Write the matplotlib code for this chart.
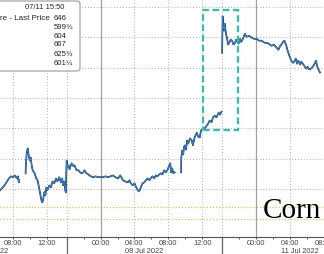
import numpy as np
import pandas as pd
import matplotlib
matplotlib.use("Agg")
import matplotlib.pyplot as plt
from matplotlib.patches import Rectangle, FancyBboxPatch
from matplotlib.transforms import blended_transform_factory

# trading sessions (ET); the chart squeezes out the non-trading time
sessions = [("2022-07-06 20:00", "2022-07-07 14:20"),
            ("2022-07-07 20:00", "2022-07-08 14:20"),
            ("2022-07-10 20:00", "2022-07-11 14:20")]
day_labels = ["07 Jul 2022", "08 Jul 2022", "11 Jul 2022"]

# corn price, cents (None = no trading / gap in the line)
times = [
    "07-07 06:30", "07-07 06:50", "07-07 07:11", "07-07 07:32", "07-07 07:46", "07-07 08:00",
    "07-07 08:14", "07-07 08:28", "07-07 08:35", "07-07 08:42", "07-07 08:45", "07-07 09:00",
    "07-07 09:30", "07-07 09:31", "07-07 09:38", "07-07 09:45", "07-07 09:52", "07-07 09:59",
    "07-07 10:06", "07-07 10:13", "07-07 10:20", "07-07 10:34", "07-07 10:45", "07-07 10:55",
    "07-07 11:02", "07-07 11:08", "07-07 11:15", "07-07 11:22", "07-07 11:29", "07-07 11:36",
    "07-07 11:43", "07-07 11:50", "07-07 11:57", "07-07 12:04", "07-07 12:18", "07-07 12:30",
    "07-07 12:40", "07-07 12:53", "07-07 13:05", "07-07 13:15", "07-07 13:28", "07-07 13:40",
    "07-07 13:49", "07-07 13:55", "07-07 14:03", "07-07 14:10", "07-07 14:15",
    "07-07 20:00", "07-07 20:07", "07-07 20:14", "07-07 20:21", "07-07 20:35", "07-07 20:49",
    "07-07 20:56", "07-07 21:10", "07-07 21:24", "07-07 21:35", "07-07 21:45", "07-07 21:59",
    "07-07 22:06", "07-07 22:20", "07-07 22:34", "07-07 22:50", "07-07 23:08", "07-07 23:25",
    "07-07 23:43", "07-08 00:00", "07-08 00:18", "07-08 00:35", "07-08 00:53", "07-08 01:10",
    "07-08 01:28", "07-08 01:45", "07-08 02:03", "07-08 02:20", "07-08 02:38", "07-08 02:55",
    "07-08 03:13", "07-08 03:25", "07-08 03:34", "07-08 03:48", "07-08 04:00", "07-08 04:09",
    "07-08 04:20", "07-08 04:30", "07-08 04:37", "07-08 04:50", "07-08 04:57", "07-08 05:10",
    "07-08 05:20", "07-08 05:32", "07-08 05:45", "07-08 06:00", "07-08 06:07", "07-08 06:20",
    "07-08 06:30", "07-08 06:42", "07-08 06:55", "07-08 07:05", "07-08 07:17", "07-08 07:30",
    "07-08 07:40", "07-08 07:52", "07-08 08:00", "07-08 08:13", "07-08 08:20", "07-08 08:27",
    "07-08 08:35", "07-08 08:44", "07-08 09:00",
    "07-08 09:30", "07-08 09:31", "07-08 09:37", "07-08 09:45", "07-08 09:50", "07-08 09:58",
    "07-08 10:05", "07-08 10:12", "07-08 10:20", "07-08 10:33", "07-08 10:45", "07-08 10:53",
    "07-08 11:05", "07-08 11:21", "07-08 11:30", "07-08 11:42", "07-08 11:50", "07-08 11:56",
    "07-08 12:05", "07-08 12:17", "07-08 12:31", "07-08 12:40", "07-08 12:52", "07-08 13:05",
    "07-08 13:15", "07-08 13:27", "07-08 13:40", "07-08 13:55", "07-08 14:05", "07-08 14:15",
    "07-08 18:00",
    "07-10 20:00", "07-10 20:03", "07-10 20:07", "07-10 20:14", "07-10 20:18", "07-10 20:21",
    "07-10 20:28", "07-10 20:35", "07-10 20:42", "07-10 20:49", "07-10 21:00", "07-10 21:10",
    "07-10 21:20", "07-10 21:31", "07-10 21:38", "07-10 21:45", "07-10 21:55", "07-10 22:06",
    "07-10 22:13", "07-10 22:20", "07-10 22:30", "07-10 22:41", "07-10 22:48", "07-10 22:55",
    "07-10 23:10", "07-10 23:29", "07-10 23:45", "07-11 00:04", "07-11 00:20", "07-11 00:39",
    "07-11 01:00", "07-11 01:14", "07-11 01:30", "07-11 01:49", "07-11 02:05", "07-11 02:24",
    "07-11 02:38", "07-11 02:50", "07-11 02:59", "07-11 03:10", "07-11 03:20", "07-11 03:34",
    "07-11 03:41", "07-11 03:55", "07-11 04:09", "07-11 04:20", "07-11 04:30", "07-11 04:40",
    "07-11 04:50", "07-11 04:58", "07-11 05:12", "07-11 05:20", "07-11 05:26", "07-11 05:40",
    "07-11 05:54", "07-11 06:05", "07-11 06:15", "07-11 06:29", "07-11 06:40", "07-11 06:50",
    "07-11 07:04", "07-11 07:10", "07-11 07:18", "07-11 07:25", "07-11 07:32",
]
prices = [
    559.6, 560.6, 561.9, 563.5, 564.2, 563.9,
    564.5, 563.5, 564.2, 562.2, 562.9, None,
    565.2, 567.1, 572.1, 573.4, 571.1, 569.4,
    570.4, 567.8, 566.2, 565.2, 563.5, 562.9,
    561.2, 559.6, 558.0, 556.3, 555.6, 557.0,
    559.0, 558.0, 560.5, 559.6, 561.2, 560.6,
    562.5, 561.9, 563.5, 562.5, 563.9, 562.2,
    563.5, 561.2, 562.5, 559.6, 558.9,
    569.4, 567.1, 567.8, 566.5, 568.5, 567.5,
    567.8, 566.2, 566.2, 565.5, 565.2, 565.5,
    566.2, 565.2, 564.8, 564.2, 563.9, 564.2,
    563.9, 563.9, 563.9, 564.2, 563.9, 564.2,
    564.5, 563.9, 563.5, 564.5, 562.9, 562.5,
    562.2, 562.9, 561.9, 561.2, 561.9, 560.9,
    559.9, 559.2, 559.6, 561.2, 561.9, 562.2,
    562.9, 563.5, 562.9, 563.9, 564.2, 563.5,
    564.5, 564.2, 564.8, 565.2, 564.8, 566.2,
    565.5, 566.2, 567.1, 568.5, 565.5, 566.8,
    565.2, 565.5, None,
    565.5, 570.4, 572.7, 571.4, 574.0, 574.4,
    573.0, 576.0, 575.0, 576.7, 576.0, 574.4,
    577.0, 578.6, 577.3, 577.0, 579.3, 579.6,
    580.0, 580.0, 580.9, 581.5, 582.6, 582.0,
    583.6, 584.2, 583.6, 585.2, 584.5, 585.5,
    None,
    604.9, 616.9, 613.8, 612.2, 614.5, 613.2,
    611.0, 609.5, 607.6, 608.2, 609.2, 608.9,
    607.6, 608.2, 609.2, 608.9, 607.9, 609.5,
    608.5, 608.9, 609.9, 611.2, 610.5, 610.2,
    610.5, 609.9, 609.5, 609.5, 608.9, 608.9,
    608.2, 608.2, 607.9, 607.2, 607.6, 606.6,
    605.9, 607.2, 607.6, 608.5, 608.9, 607.2,
    605.9, 603.9, 602.3, 601.6, 602.0, 603.0,
    601.3, 602.3, 601.0, 602.0, 601.6, 600.7,
    599.7, 600.3, 599.4, 599.7, 600.3, 601.0,
    602.3, 600.7, 599.7, 599.0, 598.4,
]

tick_times = ["07-07 08:00", "07-07 12:00", "07-08 00:00", "07-08 04:00", "07-08 08:00",
              "07-08 12:00", "07-11 00:00", "07-11 04:00", "07-11 08:00"]
minor_times = ["07-07 10:00", "07-07 22:00", "07-08 02:00", "07-08 06:00", "07-08 10:00",
               "07-10 22:00", "07-11 02:00", "07-11 06:00"]

legend_head = "07/11 15:50"
legend_name = "re - Last Price"
legend_values = ["646", "599\u00be", "604", "667", "625\u00be", "601\u00bc"]

yellow_levels = [554, 550]
box_times = ("07-08 12:06", "07-10 21:52")
box_prices = (579.4, 619.0)


def to_x(s):
    t = pd.Timestamp(s if s.startswith("2022") else "2022-" + s)
    total = 0.0
    for a, b in sessions:
        a, b = pd.Timestamp(a), pd.Timestamp(b)
        if t >= b:
            total += (b - a).total_seconds() / 3600
        elif t >= a:
            return total + (t - a).total_seconds() / 3600
        else:
            return total
    return total


df = pd.DataFrame({"t": times, "p": [np.nan if v is None else v for v in prices]})
df["x"] = [to_x(t) for t in df["t"]]
# gap markers sit just after the last real point
for i in df.index[df["p"].isna()]:
    df.loc[i, "x"] = df.loc[i - 1, "x"] + 0.01

fig = plt.figure(figsize=(3.24, 2.54), dpi=100)
ax = fig.add_axes([0, 1 - 237 / 254, 1, 237 / 254])
ax.set_xlim(to_x("07-07 06:29"), to_x("07-11 07:35"))
ax.set_ylim(544.2, 622.3)

for sp in ["top", "right", "left"]:
    ax.spines[sp].set_visible(False)
ax.spines["bottom"].set_color("#555555")
ax.spines["bottom"].set_linewidth(0.8)

# grid
for lv in range(560, 621, 10):
    ax.axhline(lv, color="#b0b0b0", lw=0.7, ls=(0, (1, 2)), zorder=1)
for lv in yellow_levels:
    ax.axhline(lv, color="#e2c44a", lw=0.9, ls=(0, (1, 1.5)), zorder=1)

tick_x = [to_x(t) for t in tick_times]
for t, x in zip(tick_times, tick_x):
    if t.endswith("00:00"):
        ax.axvline(x, color="#a0a0a0", lw=0.9, zorder=1)
    else:
        ax.axvline(x, color="#b0b0b0", lw=0.7, ls=(0, (1, 2)), zorder=1)
trans = blended_transform_factory(ax.transData, ax.transAxes)
for a, b in sessions[1:]:
    xs = to_x(a)
    ax.axvline(xs, color="#b0b0b0", lw=0.7, ls=(0, (1, 2)), zorder=1)
    ax.plot([xs, xs], [0, -0.08], transform=trans, color="#666666", lw=0.9, clip_on=False)

ax.set_xticks(tick_x)
ax.set_xticklabels([t[-5:] for t in tick_times])
ax.set_xticks([to_x(t) for t in minor_times], minor=True)
ax.tick_params(axis="x", which="both", direction="out", length=1.5, width=0.7, color="#555555",
               pad=0.6, labelsize=5.3, labelcolor="#444444")
for lab in ax.get_xticklabels():
    lab.set_family("Liberation Sans")
ax.set_yticks([])

for (a, b), lab in zip(sessions, day_labels):
    xc = (to_x(a) + to_x(b)) / 2
    ax.text(xc, -0.061, lab, transform=trans, ha="center", va="center",
            fontsize=5.3, color="#444444", family="Liberation Sans", clip_on=False)

# price line
ax.plot(df["x"], df["p"], color="#1a1a1a", lw=1.15, zorder=3)
ax.plot(df["x"], df["p"], color="#2f86e0", lw=0.75, zorder=4)

# highlight box
bx0, bx1 = to_x(box_times[0]), to_x(box_times[1])
ax.add_patch(Rectangle((bx0, box_prices[0]), bx1 - bx0, box_prices[1] - box_prices[0],
                       fill=False, ec="#2cc4a4", lw=1.6, ls=(0, (3, 1.6)), zorder=5))

# legend box (cropped at the left edge)
fig.add_artist(FancyBboxPatch((-10 / 324, 1 - 71 / 254), 90 / 324, 70 / 254,
                              boxstyle="round,pad=0,rounding_size=0.01",
                              transform=fig.transFigure, fc="white", ec="#9a9a9a", lw=0.8,
                              zorder=10))
lf = dict(color="#222222", family="Liberation Sans", va="center", zorder=11)
fig.text(25 / 324, 1 - 7.5 / 254, legend_head, ha="left", fontsize=5.4, **lf)
fig.text(0, 1 - 18 / 254, legend_name, ha="left", fontsize=5.8, **lf)
for i, v in enumerate(legend_values):
    fig.text(54 / 324, 1 - (18 + i * 9) / 254, v, ha="left", fontsize=5.6, **lf)

fig.text(263 / 324, 1 - 218 / 254, "Corn", ha="left", va="baseline",
         family="Liberation Serif", fontsize=21, color="black")

fig.savefig("out.png", dpi=100)
